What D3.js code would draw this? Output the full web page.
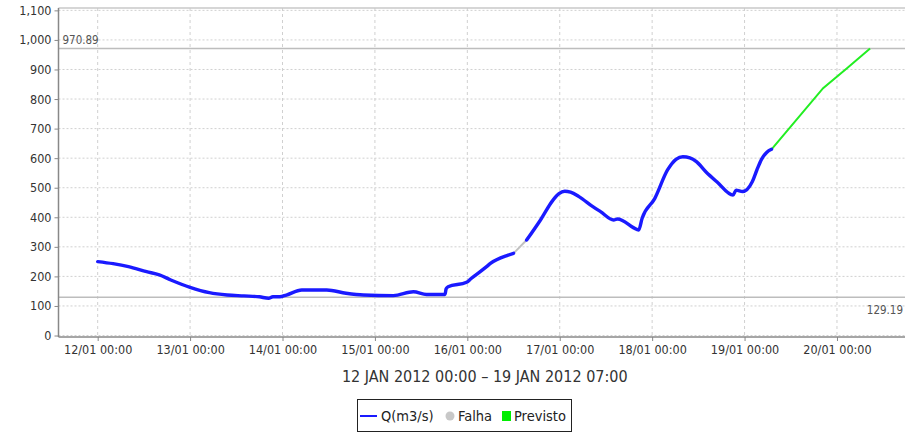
<!DOCTYPE html>
<html><head><meta charset="utf-8">
<script src="https://cdn.jsdelivr.net/npm/d3@7"></script>
<style>
html,body{margin:0;padding:0;background:#fff;}
svg{display:block;}
</style>
</head><body>
<svg id="chart" width="905" height="434"></svg>
<script>
// Hours since 12/01/2012 00:00
const qHours = [0,4,8,12.7,16,19,24,29,33.6,38,42,44.4,45.5,47.3,49,53,59.5,64.5,69,76.8,82,85.4,90.2,90.5,91,95.8,97,101,102,106.6,108,
  108.5,111.4,115,118.3,119.8,121.3,122.8,125,128.6,130.6,134,135,140,140.5,141.4,144.7,148,150.2,152,153.8,155.5,158,160.8,165,165.8,167.5,170,171.2,172.4,173.8,175];
const qValues = [250,243,233,216,205,188,163,145,137,134,131,126,131,131,137,154,154,143,137,135,148,139,139,158,165,180,193,233,244,272,278,
  null,323,391,459,480,488,485,470,436,419,391,394,359,357,397,464,560,596,605,601,588,553,520,475,492,487,520,560,596,620,630];
const falhaHours = [108,111.4];
const falhaValues = [278,323];
const previstoHours = [175,188.4,194.6,200.6];
const previstoValues = [630,837,904,970.89];
const refLines = [970.89,129.19];
const yTicks = [0,100,200,300,400,500,600,700,800,900,1000,1100];
const xTickDays = [0,1,2,3,4,5,6,7,8];
const xTitle = "12 JAN 2012 00:00 \u2013 19 JAN 2012 07:00";
const legendItems = ["Q(m3/s)","Falha","Previsto"];

const svg = d3.select("#chart");
const L = 58.5, R = 906, T = 8, B = 337;
const x = d3.scaleLinear().domain([-0.424*24, 8.747*24]).range([L, R]);
const y = d3.scaleLinear().domain([-5, 1108]).range([B, T]);
const font = "'DejaVu Sans Condensed', 'DejaVu Sans', sans-serif";

// grid
svg.append("g").selectAll("line").data(yTicks).join("line")
  .attr("x1", L).attr("x2", R).attr("y1", d=>y(d)).attr("y2", d=>y(d))
  .attr("stroke", "#d0d0d0").attr("stroke-dasharray", "2,2").attr("stroke-width", 1);
svg.append("g").selectAll("line").data(xTickDays).join("line")
  .attr("x1", d=>x(d*24)).attr("x2", d=>x(d*24)).attr("y1", T).attr("y2", B)
  .attr("stroke", "#d0d0d0").attr("stroke-dasharray", "3,3").attr("stroke-width", 1);

// plot top border
svg.append("line").attr("x1", L).attr("x2", R).attr("y1", T).attr("y2", T)
  .attr("stroke", "#c8c8c8").attr("stroke-width", 1.5);

// reference lines
svg.append("g").selectAll("line").data(refLines).join("line")
  .attr("x1", L).attr("x2", R).attr("y1", d=>y(d)).attr("y2", d=>y(d))
  .attr("stroke", "#bdbdbd").attr("stroke-width", 1.5);
svg.append("text").attr("x", L+4).attr("y", y(refLines[0])-5)
  .attr("font-family", font).attr("font-size", 11.5).attr("fill", "#555").text(refLines[0].toFixed(2));
svg.append("text").attr("x", 903).attr("y", y(refLines[1])+17).attr("text-anchor","end")
  .attr("font-family", font).attr("font-size", 11.5).attr("fill", "#555").text(refLines[1].toFixed(2));

// axes
const yAxis = d3.axisLeft(y).tickValues(yTicks).tickFormat(d3.format(",")).tickSize(4).tickPadding(3);
const gy = svg.append("g").attr("transform", `translate(${L},0)`).call(yAxis);
gy.select(".domain").attr("d", `M0,${T}V${B}`).attr("stroke", "#888").attr("stroke-width", 1.5);
gy.selectAll(".tick line").attr("stroke", "#888");
gy.selectAll(".tick text").attr("font-family", font).attr("font-size", 12.5).attr("fill", "#333");

const fmt = d => { const dd = 12 + d; return `${dd}/01 00:00`; };
const xAxis = d3.axisBottom(x).tickValues(xTickDays.map(d=>d*24)).tickFormat(h=>fmt(h/24)).tickSize(4).tickPadding(4);
const gx = svg.append("g").attr("transform", `translate(0,${B})`).call(xAxis);
gx.select(".domain").attr("d", `M${L},0H${R}`).attr("stroke", "#888").attr("stroke-width", 1.5);
gx.selectAll(".tick line").attr("stroke", "#888");
gx.selectAll(".tick text").attr("font-family", font).attr("font-size", 12.5).attr("fill", "#333");

svg.append("text").attr("x", (L+905)/2+3).attr("y", 382).attr("text-anchor","middle")
  .attr("font-family", "'DejaVu Sans Condensed', sans-serif").attr("font-size", 16).attr("fill", "#333").text(xTitle);

// series
const line = d3.line().defined(d=>d[1]!==null).x(d=>x(d[0])).y(d=>y(d[1])).curve(d3.curveMonotoneX);
const qData = qHours.map((h,i)=>[h,qValues[i]]);
const fData = falhaHours.map((h,i)=>[h,falhaValues[i]]);
const pData = previstoHours.map((h,i)=>[h,previstoValues[i]]);
svg.append("path").datum(fData).attr("d", line).attr("fill","none").attr("stroke","#c0c0c0").attr("stroke-width",2);
svg.append("path").datum(pData).attr("d", d3.line().x(d=>x(d[0])).y(d=>y(d[1]))).attr("fill","none").attr("stroke","#22ee22").attr("stroke-width",2);
svg.append("path").datum(qData).attr("d", line).attr("fill","none").attr("stroke","#1a1aff").attr("stroke-width",3.4)
  .attr("stroke-linejoin","round").attr("stroke-linecap","round");

// legend
const lg = svg.append("g");
lg.append("rect").attr("x", 357.5).attr("y", 399.5).attr("width", 214).attr("height", 32)
  .attr("fill","#fff").attr("stroke","#222").attr("stroke-width",1);
lg.append("line").attr("x1", 360).attr("x2", 377).attr("y1", 416).attr("y2", 416).attr("stroke","#1a1aff").attr("stroke-width",2);
const lfont = "'DejaVu Sans Condensed', sans-serif";
lg.append("text").attr("x", 381).attr("y", 421).attr("font-family", lfont).attr("font-size", 14.5).attr("fill","#222").text(legendItems[0]);
lg.append("circle").attr("cx", 450).attr("cy", 416).attr("r", 4.5).attr("fill","#c8c8c8");
lg.append("text").attr("x", 458).attr("y", 421).attr("font-family", lfont).attr("font-size", 14.5).attr("fill","#222").text(legendItems[1]);
lg.append("rect").attr("x", 502).attr("y", 411).attr("width", 9).attr("height", 10).attr("fill","#00ee00");
lg.append("text").attr("x", 514).attr("y", 421).attr("font-family", lfont).attr("font-size", 14.5).attr("fill","#222").text(legendItems[2]);
</script>
</body></html>
